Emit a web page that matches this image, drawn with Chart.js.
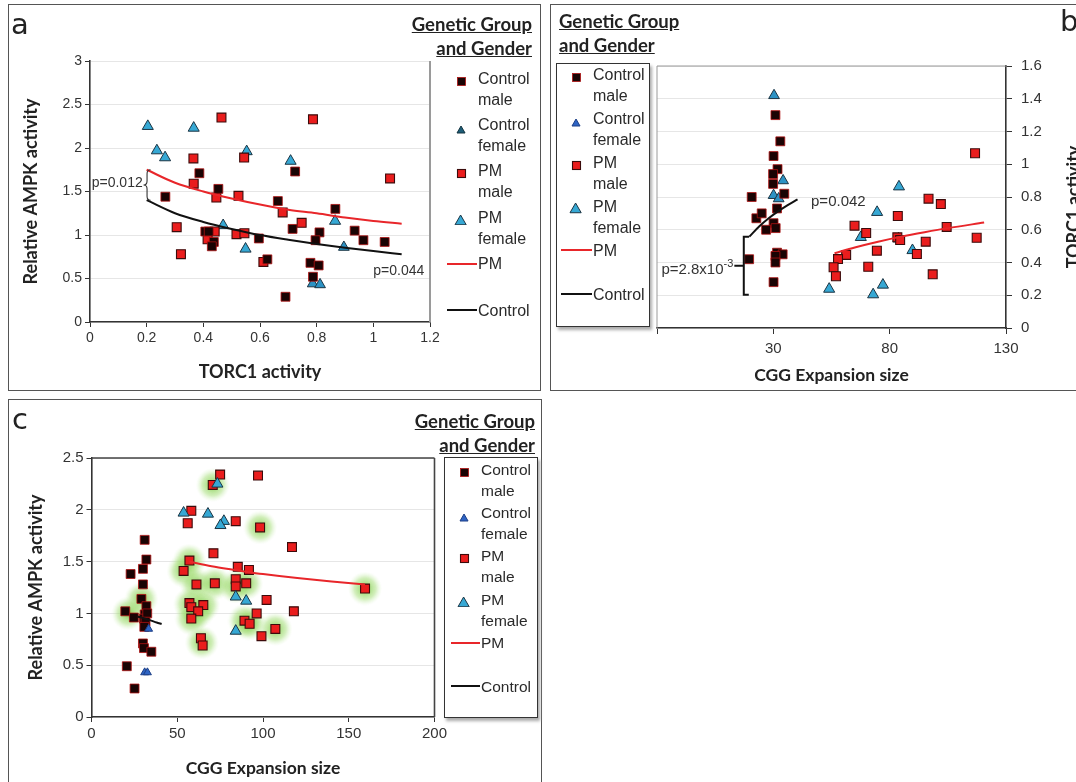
<!DOCTYPE html>
<html lang="en">
<head>
<meta charset="UTF-8">
<title>AMPK, TORC1 and CGG expansion</title>
<script src="https://cdn.jsdelivr.net/npm/chart.js@4.4.1/dist/chart.umd.min.js"></script>
<style>
  body { margin: 0; background: #fff; font-family: "Liberation Sans", Arial, sans-serif; }
  #page { position: relative; width: 1076px; height: 782px; overflow: hidden; background: #fff; }
  .frame { position: absolute; border: 1.5px solid #555; box-sizing: border-box; }
  canvas { position: absolute; }
  .letter { position: absolute; font-family: "DejaVu Sans ExtraLight", "DejaVu Sans", sans-serif; font-size: 29px; line-height: 29px; color: #222; }
  .ltitle { position: absolute; font-family: Lato, sans-serif; font-weight: bold; font-size: 18.5px; line-height: 24px; color: #222; text-decoration: underline; white-space: nowrap; }
  .lbox { position: absolute; border: 1.5px solid #333; box-sizing: border-box; box-shadow: 2px 3px 3px #aaa; background: #fff; }
  .item { position: absolute; font-size: 16px; line-height: 21px; color: #2a2a2a; white-space: nowrap; }
  .mk { position: absolute; }
  .lline { position: absolute; height: 2px; }
  .vtitle { position: absolute; font-family: Lato, sans-serif; font-weight: bold; font-size: 18px; color: #222; white-space: nowrap; transform: translate(-50%, -50%) rotate(-90deg); }
</style>
</head>
<body>
<div id="page">
  <div class="frame" style="left:8px; top:4px; width:533px; height:387px;"></div>
  <div class="frame" style="left:550px; top:4px; width:530px; height:387px;"></div>
  <div class="frame" style="left:8px; top:399px; width:534px; height:400px;"></div>

  <canvas id="chartA" width="532" height="387" style="left:8px; top:4px;"></canvas>
  <canvas id="chartB" width="527" height="387" style="left:549px; top:4px;"></canvas>
  <canvas id="chartC" width="533" height="383" style="left:8px; top:399px;"></canvas>

  <div class="letter" style="left:11px; top:10px;">a</div>
  <div class="letter" style="left:1060px; top:7px;">b</div>
  <div class="letter" style="left:12px; top:405px;">c</div>

  <div class="ltitle" style="right:544px; top:12px; text-align:right;">Genetic Group<br>and Gender</div>
  <div class="ltitle" style="left:559px; top:9px;">Genetic Group<br>and Gender</div>
  <div class="ltitle" style="right:541px; top:409px; text-align:right;">Genetic Group<br>and Gender</div>

  <div class="lbox" style="left:556px; top:63px; width:94px; height:264px;"></div>
  <div class="lbox" style="left:444px; top:457px; width:94px; height:261px;"></div>

  <div class="vtitle" style="left:1073px; top:207px;">TORC1 activity</div>
  <div id="legends"></div>
</div>
<script>
// ---------------- data : panel a (TORC1 activity vs relative AMPK activity) ----------------
const aControlMaleX = [0.386, 0.724, 0.453, 0.266, 0.663, 0.866, 0.715, 0.407, 0.419, 0.437, 0.430, 0.596, 0.810, 0.796, 0.934, 0.965, 1.040, 0.626, 0.778, 0.807, 0.787, 0.690];
const aControlMaleY = [1.71, 1.73, 1.53, 1.44, 1.39, 1.30, 1.07, 1.04, 1.04, 0.92, 0.87, 0.96, 1.03, 0.94, 1.05, 0.94, 0.92, 0.72, 0.68, 0.65, 0.52, 0.29];
const aControlFemaleX = [0.896, 0.786, 0.812];
const aControlFemaleY = [0.86, 0.44, 0.43];
const aPmMaleX = [0.464, 0.787, 0.365, 0.544, 0.366, 1.059, 0.446, 0.524, 0.680, 0.747, 0.306, 0.440, 0.415, 0.517, 0.545, 0.321, 0.612];
const aPmMaleY = [2.35, 2.33, 1.88, 1.89, 1.59, 1.65, 1.43, 1.45, 1.26, 1.14, 1.09, 1.04, 0.95, 1.01, 1.02, 0.78, 0.69];
const aPmFemaleX = [0.204, 0.366, 0.236, 0.265, 0.553, 0.708, 0.470, 0.549, 0.865];
const aPmFemaleY = [2.25, 2.23, 1.97, 1.89, 1.96, 1.85, 1.11, 0.84, 1.16];
const aPmTrendX = [0.2, 0.3, 0.4, 0.5, 0.6, 0.7, 0.8, 0.9, 1.0, 1.1];
const aPmTrendY = [1.75, 1.60, 1.50, 1.42, 1.35, 1.29, 1.25, 1.20, 1.16, 1.13];
const aControlTrendX = [0.2, 0.3, 0.4, 0.5, 0.6, 0.7, 0.8, 0.9, 1.0, 1.1];
const aControlTrendY = [1.40, 1.25, 1.15, 1.07, 1.00, 0.945, 0.896, 0.853, 0.815, 0.78];
const aXTicks = {min: 0, max: 1.2, step: 0.2};
const aYTicks = {min: 0, max: 3, step: 0.5};

// ---------------- data : panel b (CGG expansion size vs TORC1 activity) ----------------
const bControlMaleX = [30.9, 33.0, 30.1, 31.8, 29.9, 29.9, 34.7, 20.7, 31.6, 22.7, 25.0, 30.1, 26.9, 31.0, 19.6, 31.6, 34.0, 30.9, 30.9, 30.1];
const bControlMaleY = [1.30, 1.14, 1.05, 0.97, 0.94, 0.88, 0.82, 0.80, 0.73, 0.67, 0.70, 0.64, 0.60, 0.61, 0.42, 0.46, 0.45, 0.44, 0.40, 0.28];
const bControlFemaleX = [30.3, 34.2, 30.1, 32.3];
const bControlFemaleY = [1.42, 0.90, 0.81, 0.79];
const bPmMaleX = [116.7, 96.7, 102.0, 64.9, 83.5, 69.9, 104.5, 83.3, 84.5, 95.5, 117.4, 74.5, 91.7, 61.3, 57.8, 55.9, 56.9, 70.8, 98.5];
const bPmMaleY = [1.067, 0.79, 0.757, 0.625, 0.684, 0.58, 0.617, 0.554, 0.537, 0.527, 0.551, 0.472, 0.452, 0.446, 0.421, 0.371, 0.316, 0.374, 0.328];
const bPmFemaleX = [84.0, 74.6, 67.6, 83.8, 89.8, 54.0, 72.9, 77.1];
const bPmFemaleY = [0.863, 0.707, 0.554, 0.545, 0.474, 0.238, 0.204, 0.263];
const bPmTrendX = [56.3, 65, 75, 85, 95, 105, 120.6];
const bPmTrendY = [0.457, 0.492, 0.527, 0.558, 0.585, 0.610, 0.644];
const bControlTrendX = [19.7, 24, 28, 32, 36, 40.4];
const bControlTrendY = [0.558, 0.621, 0.670, 0.712, 0.749, 0.786];
const bXTicks = {min: -20, max: 130, step: 50};
const bYTicks = {min: 0, max: 1.6, step: 0.2};

// ---------------- data : panel c (CGG expansion size vs relative AMPK activity) ----------------
const cControlMaleX = [31.0, 32.0, 30.0, 22.8, 30.0, 29.1, 32.0, 19.7, 24.7, 31.0, 30.5, 32.5, 31.5, 30.8, 30.0, 30.6, 34.9, 20.6, 25.1];
const cControlMaleY = [1.71, 1.52, 1.43, 1.38, 1.28, 1.14, 1.07, 1.02, 0.96, 0.99, 0.95, 1.00, 0.92, 0.87, 0.71, 0.665, 0.63, 0.49, 0.275];
const cControlFemaleX = [31.0, 32.6, 33.3];
const cControlFemaleY = [0.43, 0.43, 0.85];
const cPmMaleX = [75.0, 97.1, 70.7, 58.2, 56.1, 84.1, 98.3, 116.9, 71.1, 57.1, 53.7, 85.3, 91.8, 61.2, 71.9, 84.1, 84.1, 90.2, 159.5, 102.1, 57.1, 58.2, 65.2, 62.2, 58.2, 96.3, 118.0, 89.2, 92.2, 107.2, 99.1, 63.8, 64.8];
const cPmMaleY = [2.34, 2.33, 2.24, 1.99, 1.87, 1.89, 1.83, 1.64, 1.58, 1.51, 1.41, 1.45, 1.42, 1.28, 1.29, 1.33, 1.26, 1.29, 1.24, 1.13, 1.10, 1.06, 1.08, 1.02, 0.95, 1.00, 1.02, 0.93, 0.90, 0.85, 0.78, 0.76, 0.69];
const cPmFemaleX = [53.7, 67.9, 77.2, 75.2, 73.4, 84.1, 90.2, 84.1];
const cPmFemaleY = [1.97, 1.96, 1.89, 1.85, 2.25, 1.16, 1.12, 0.83];
const cHighlightX = [70.7, 98.3, 57.1, 53.7, 61.2, 71.9, 84.1, 90.2, 159.5, 57.5, 65.2, 62.2, 58.2, 89.2, 92.2, 107.2, 64.3, 29.1, 21.5];
const cHighlightY = [2.24, 1.83, 1.51, 1.41, 1.28, 1.29, 1.26, 1.29, 1.24, 1.09, 1.08, 1.02, 0.95, 0.93, 0.90, 0.85, 0.72, 1.14, 1.00];
const cPmTrendX = [57.1, 70, 80, 90, 100, 120, 140, 159.5];
const cPmTrendY = [1.500, 1.456, 1.428, 1.403, 1.380, 1.341, 1.308, 1.280];
const cControlTrendX = [26.7, 30, 34, 38, 40.9];
const cControlTrendY = [0.970, 0.955, 0.935, 0.912, 0.897];
const cXTicks = {min: 0, max: 200, step: 50};
const cYTicks = {min: 0, max: 2.5, step: 0.5};

// legend labels
const pointSeries = [['Control', 'male'], ['Control', 'female'], ['PM', 'male'], ['PM', 'female']];
const lineSeries = ['PM', 'Control'];

// p-value notes (data coordinates)
const aNotes = [{text: 'p=0.012', x: 0.186, y: 1.60, align: 'right'}, {text: 'p=0.044', x: 1.0, y: 0.58, align: 'left'}];
const aBrace = {x: 0.189, y1: 1.75, y2: 1.40};
const bNotes = [{text: 'p=0.042', x: 46.2, y: 0.77, align: 'left'}, {text: 'p=2.8x10', sup: '-3', x: -18.1, y: 0.355, align: 'left'}];
const bBracket = {x: 17.3, y1: 0.558, y2: 0.203, yc: 0.38, tickTo: 19.6};

// ---------------- styles ----------------
const STYLE = {
  controlMale:   {shape: 'rect', r: 6.3, bg: '#1a0404', border: '#b01212', bw: 0.8},
  controlFemale: {shape: 'triangle', r: 6.2, bg: '#2c92c4', border: '#1b3443', bw: 1},
  controlFemaleTeal: {shape: 'triangle', r: 4.6, bg: '#1d5d78', border: '#12323f', bw: 1},
  controlFemaleSmall: {shape: 'triangle', r: 4.6, bg: '#2e64c4', border: '#1d3f86', bw: 1},
  pmMale:        {shape: 'rect', r: 6.3, bg: '#ea1d1d', border: '#3b0b0b', bw: 1.1},
  pmFemale:      {shape: 'triangle', r: 6.4, bg: '#36a8d4', border: '#1b3443', bw: 1}
};
const RED = '#e8262a';
const BLACK = '#111';
const TICK_FONT = "'Liberation Sans', Arial, sans-serif";

const glowImg = (function () {
  const c = document.createElement('canvas');
  c.width = 34; c.height = 34;
  const g = c.getContext('2d');
  const grad = g.createRadialGradient(17, 17, 3, 17, 17, 17);
  grad.addColorStop(0, 'rgba(140,210,90,0.85)');
  grad.addColorStop(0.55, 'rgba(165,222,120,0.5)');
  grad.addColorStop(1, 'rgba(210,240,190,0)');
  g.fillStyle = grad;
  g.fillRect(0, 0, 34, 34);
  return c;
})();

function pts(xs, ys) {
  return xs.map((x, i) => ({x: x, y: ys[i]}));
}

function scatterSet(label, xs, ys, st) {
  return {
    label: label, data: pts(xs, ys), showLine: false,
    pointStyle: st.shape, pointRadius: st.r, pointHoverRadius: st.r,
    pointBackgroundColor: st.bg, pointBorderColor: st.border, pointBorderWidth: st.bw
  };
}

function lineSet(label, xs, ys, color) {
  return {
    label: label, data: pts(xs, ys), showLine: true, borderColor: color, borderWidth: 2,
    pointRadius: 0, fill: false, cubicInterpolationMode: 'monotone'
  };
}

function fmt(v) {
  return String(Math.round(v * 100) / 100);
}

// draws the plot-area outline on the chosen sides
const framePlugin = {
  id: 'frame',
  beforeDatasetsDraw(chart, args, opts) {
    const {ctx, chartArea: a} = chart;
    ctx.save();
    ctx.strokeStyle = opts.color;
    ctx.lineWidth = opts.width;
    ctx.beginPath();
    (opts.sides || []).forEach(s => {
      if (s === 'top') { ctx.moveTo(a.left, a.top); ctx.lineTo(a.right, a.top); }
      if (s === 'right') { ctx.moveTo(a.right, a.top); ctx.lineTo(a.right, a.bottom); }
      if (s === 'left') { ctx.moveTo(a.left, a.top); ctx.lineTo(a.left, a.bottom); }
    });
    ctx.stroke();
    ctx.restore();
  }
};

// p-value labels, brace and bracket
const notesPlugin = {
  id: 'notes',
  afterDatasetsDraw(chart, args, opts) {
    const {ctx} = chart;
    const xs = chart.scales.x, ys = chart.scales.y;
    ctx.save();
    ctx.fillStyle = '#333';
    ctx.textBaseline = 'middle';
    const size = opts.size || 14;
    let lastEnd = null;
    (opts.texts || []).forEach(t => {
      ctx.font = size + 'px ' + TICK_FONT;
      ctx.textAlign = t.align;
      const px = xs.getPixelForValue(t.x), py = ys.getPixelForValue(t.y);
      ctx.fillText(t.text, px, py);
      if (t.sup) {
        const w = ctx.measureText(t.text).width;
        ctx.font = Math.round(size * 0.72) + 'px ' + TICK_FONT;
        ctx.textAlign = 'left';
        ctx.fillText(t.sup, px + w, py - size * 0.38);
        lastEnd = {x: px + w + ctx.measureText(t.sup).width, y: py};
      }
    });
    const b = opts.brace;
    if (b) {
      const x0 = xs.getPixelForValue(b.x), w = 7, xm = x0 + w / 2, x1 = x0 + w;
      const top = ys.getPixelForValue(b.y1), bot = ys.getPixelForValue(b.y2), mid = (top + bot) / 2, r = 4;
      ctx.strokeStyle = '#333';
      ctx.lineWidth = 1.1;
      ctx.beginPath();
      ctx.moveTo(x1, top);
      ctx.quadraticCurveTo(xm, top, xm, top + r);
      ctx.lineTo(xm, mid - r);
      ctx.quadraticCurveTo(xm, mid, x0, mid);
      ctx.quadraticCurveTo(xm, mid, xm, mid + r);
      ctx.lineTo(xm, bot - r);
      ctx.quadraticCurveTo(xm, bot, x1, bot);
      ctx.stroke();
    }
    const k = opts.bracket;
    if (k) {
      const x0 = xs.getPixelForValue(k.x), x1 = xs.getPixelForValue(k.tickTo);
      const top = ys.getPixelForValue(k.y1), bot = ys.getPixelForValue(k.y2), yc = ys.getPixelForValue(k.yc);
      ctx.strokeStyle = '#111';
      ctx.lineWidth = 2;
      ctx.beginPath();
      ctx.moveTo(x1, top); ctx.lineTo(x0, top); ctx.lineTo(x0, bot); ctx.lineTo(x0 + 5, bot);
      if (lastEnd) { ctx.moveTo(lastEnd.x + 1, yc); ctx.lineTo(x0, yc); }
      ctx.stroke();
    }
    ctx.restore();
  }
};

function axis(t, fontSize, extra) {
  return Object.assign({
    type: 'linear', min: t.min, max: t.max,
    ticks: {stepSize: t.step, callback: fmt, color: '#333', font: {family: TICK_FONT, size: fontSize}},
    border: {color: '#333', width: 1.6}
  }, extra);
}

function titleOpt(text, size, padding) {
  return {display: true, text: text, color: '#222', font: {family: 'Lato', weight: 'bold', size: size}, padding: padding};
}

function makeChart(id, datasets, scales, padding, frame, notes) {
  return new Chart(document.getElementById(id), {
    type: 'scatter',
    data: {datasets: datasets},
    options: {
      responsive: false, animation: false, devicePixelRatio: 1,
      layout: {padding: padding},
      plugins: {legend: {display: false}, tooltip: {enabled: false}, frame: frame, notes: notes},
      scales: scales
    },
    plugins: [framePlugin, notesPlugin]
  });
}

// ---------------- panel a ----------------
makeChart('chartA', [
  lineSet('PM', aPmTrendX, aPmTrendY, RED),
  lineSet('Control', aControlTrendX, aControlTrendY, BLACK),
  scatterSet('Control male', aControlMaleX, aControlMaleY, STYLE.controlMale),
  scatterSet('Control female', aControlFemaleX, aControlFemaleY, STYLE.controlFemale),
  scatterSet('PM male', aPmMaleX, aPmMaleY, STYLE.pmMale),
  scatterSet('PM female', aPmFemaleX, aPmFemaleY, STYLE.pmFemale)
], {
  x: axis(aXTicks, 14, {
    grid: {drawOnChartArea: false, tickColor: '#333', tickLength: 5},
    title: titleOpt('TORC1 activity', 18, {top: 0, bottom: 8}),
    afterFit: s => { s.height = 69; }
  }),
  y: axis(aYTicks, 14, {
    grid: {color: '#e6e6e6', tickColor: '#333', tickLength: 5},
    title: titleOpt('Relative AMPK activity', 18, {top: 12, bottom: 0}),
    afterFit: s => { s.width = 82; }
  })
}, {top: 57, right: 110, left: 0, bottom: 0},
{color: '#9a9a9a', width: 2, sides: ['right']},
{texts: aNotes, brace: aBrace, size: 14});

// ---------------- panel b ----------------
makeChart('chartB', [
  lineSet('PM', bPmTrendX, bPmTrendY, RED),
  lineSet('Control', bControlTrendX, bControlTrendY, BLACK),
  scatterSet('Control male', bControlMaleX, bControlMaleY, STYLE.controlMale),
  scatterSet('Control female', bControlFemaleX, bControlFemaleY, STYLE.controlFemale),
  scatterSet('PM male', bPmMaleX, bPmMaleY, STYLE.pmMale),
  scatterSet('PM female', bPmFemaleX, bPmFemaleY, STYLE.pmFemale)
], {
  x: axis(bXTicks, 15, {
    ticks: {stepSize: bXTicks.step, color: '#333', font: {family: TICK_FONT, size: 15},
      callback: v => (v < 0 ? '' : fmt(v)), padding: 6},
    grid: {drawOnChartArea: false, tickColor: '#333', tickLength: 6},
    title: titleOpt('CGG Expansion size', 17.5, {top: 0, bottom: 5}),
    afterFit: s => { s.height = 63; }
  }),
  y: axis(bYTicks, 15, {
    position: 'right',
    ticks: {stepSize: bYTicks.step, callback: fmt, color: '#333', font: {family: TICK_FONT, size: 15}, padding: 9},
    grid: {color: '#e6e6e6', tickColor: '#333', tickLength: 6},
    afterFit: s => { s.width = 70; }
  })
}, {top: 62, right: 0, left: 108, bottom: 0},
{color: '#999', width: 1, sides: ['top', 'left']},
{texts: bNotes, bracket: bBracket, size: 15});

// ---------------- panel c ----------------
const cGlow = {
  label: 'highlight', data: pts(cHighlightX, cHighlightY), showLine: false,
  pointStyle: glowImg, pointRadius: 17
};
makeChart('chartC', [
  lineSet('PM', cPmTrendX, cPmTrendY, RED),
  lineSet('Control', cControlTrendX, cControlTrendY, BLACK),
  scatterSet('Control female', cControlFemaleX, cControlFemaleY, STYLE.controlFemaleSmall),
  scatterSet('Control male', cControlMaleX, cControlMaleY, STYLE.controlMale),
  scatterSet('PM female', cPmFemaleX, cPmFemaleY, STYLE.pmFemale),
  scatterSet('PM male', cPmMaleX, cPmMaleY, STYLE.pmMale),
  cGlow
], {
  x: axis(cXTicks, 15, {
    grid: {drawOnChartArea: false, tickColor: '#333', tickLength: 5},
    title: titleOpt('CGG Expansion size', 17.5, {top: 0, bottom: 3}),
    afterFit: s => { s.height = 65; }
  }),
  y: axis(cYTicks, 15, {
    grid: {color: '#e6e6e6', tickColor: '#333', tickLength: 5},
    title: titleOpt('Relative AMPK activity', 18, {top: 17, bottom: 0}),
    afterFit: s => { s.width = 83.5; }
  })
}, {top: 59, right: 106.5, left: 0, bottom: 0},
{color: '#444', width: 1.6, sides: ['top', 'right']},
{});

// ---------------- legends (html) ----------------
const legendLines = [RED, BLACK];

function markerSvg(st) {
  if (st.shape === 'rect') {
    return '<svg width="11" height="11"><rect x="1.5" y="1.5" width="8" height="8" fill="' + st.bg +
      '" stroke="' + st.border + '" stroke-width="' + st.bw + '"/></svg>';
  }
  const s = st.r * 1.75;
  const h = s * 0.87;
  return '<svg width="' + (s + 2) + '" height="' + (h + 2) + '"><polygon points="' + (1 + s / 2) + ',1 ' + (1 + s) + ',' + (1 + h) +
    ' 1,' + (1 + h) + '" fill="' + st.bg + '" stroke="' + st.border + '" stroke-width="1"/></svg>';
}

function buildLegend(L) {
  const root = document.getElementById('legends');
  let html = '';
  pointSeries.forEach((lines, i) => {
    const y = L.top + i * L.gap;
    const st = L.markers[i];
    const w = st.shape === 'rect' ? 11 : st.r * 1.75 + 2;
    const h = st.shape === 'rect' ? 11 : st.r * 1.75 * 0.87 + 2;
    html += '<div class="mk" style="left:' + (L.markerX - w / 2) + 'px; top:' + (y - h / 2) + 'px;">' + markerSvg(st) + '</div>';
    html += '<div class="item" style="left:' + L.textX + 'px; top:' + (y - 10.5) + 'px; font-size:' + L.font + 'px;">' + lines.join('<br>') + '</div>';
  });
  lineSeries.forEach((name, j) => {
    const y = L.top + (4 + j) * L.gap;
    html += '<div class="lline" style="left:' + L.lineX + 'px; width:' + (L.textX - L.lineX - 1) + 'px; top:' + (y - 1) + 'px; background:' + legendLines[j] + ';"></div>';
    html += '<div class="item" style="left:' + L.textX + 'px; top:' + (y - 10.5) + 'px; font-size:' + L.font + 'px;">' + name + '</div>';
  });
  root.insertAdjacentHTML('beforeend', html);
}

buildLegend({markerX: 461, textX: 478, lineX: 447, top: 78, gap: 46.4, font: 16,
  markers: [STYLE.controlMale, STYLE.controlFemaleTeal, STYLE.pmMale, STYLE.pmFemale]});
buildLegend({markerX: 576, textX: 593, lineX: 561, top: 74, gap: 44, font: 16,
  markers: [STYLE.controlMale, STYLE.controlFemaleSmall, STYLE.pmMale, STYLE.pmFemale]});
buildLegend({markerX: 464, textX: 481, lineX: 451, top: 469, gap: 43.4, font: 15.5,
  markers: [STYLE.controlMale, STYLE.controlFemaleSmall, STYLE.pmMale, STYLE.pmFemale]});
</script>
</body>
</html>
